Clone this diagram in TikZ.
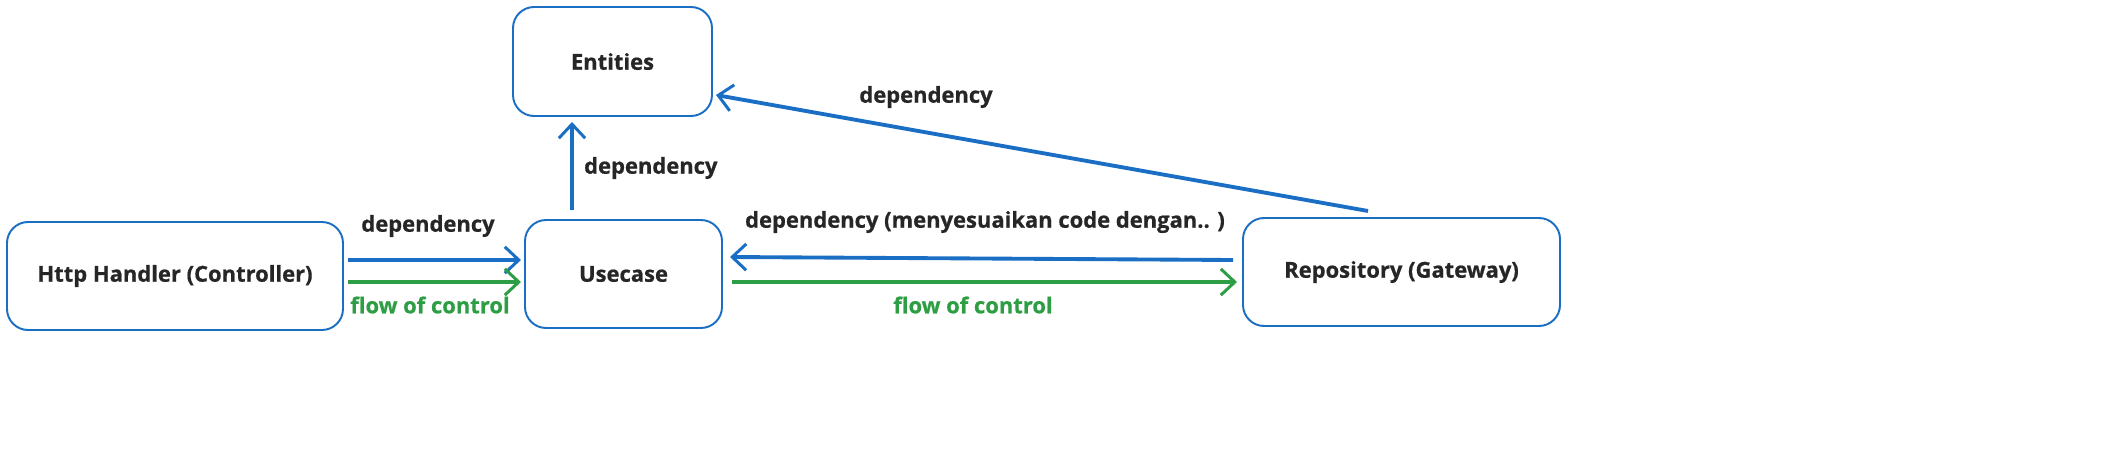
\documentclass[tikz,border=0pt]{standalone}
\usepackage{fontspec}
\setmainfont{Open Sans}[FakeBold=0.6]
\usetikzlibrary{arrows.meta}
\definecolor{bl}{HTML}{1A6FC4}
\definecolor{gr}{HTML}{2E9E44}
\begin{document}
\begin{tikzpicture}[x=0.02cm,y=-0.02cm,
 box/.style={draw=bl,line width=1.1pt,rounded corners=12pt,fill=white,font=\bfseries\fontsize{12.5}{15}\selectfont,text=black!85},
 dep/.style={draw=bl,line width=2.2pt,-{Straight Barb[length=8pt,width=15pt,line width=1.7pt]}},
 flow/.style={draw=gr,line width=2.2pt,-{Straight Barb[length=8pt,width=15pt,line width=1.7pt]}},
 lab/.style={font=\bfseries\fontsize{12.5}{15}\selectfont,text=black!85},
 glab/.style={font=\bfseries\fontsize{12.5}{15}\selectfont,text=gr}]
\useasboundingbox (0,0) rectangle (2102,453);
\node[box,minimum width=0.02cm*199,minimum height=0.02cm*109] (ent) at (612.5,61.5) {Entities};
\node[box,minimum width=0.02cm*336,minimum height=0.02cm*108] (http) at (175,276) {Http Handler (Controller)};
\node[box,minimum width=0.02cm*197,minimum height=0.02cm*108] (use) at (623.5,274) {Usecase};
\node[box,minimum width=0.02cm*317,minimum height=0.02cm*108] (repo) at (1401.5,272) {Repository (Gateway)};
\coordinate (u1) at (572,210); \coordinate (e1) at (572,122);
\draw[dep] (u1) -- (e1);
\node[lab,anchor=west] (l1) at (578,168) {dependency};
\coordinate (h1) at (348,260); \coordinate (u2) at (521,260);
\draw[dep] (h1) -- (u2);
\coordinate (h2) at (348,282); \coordinate (u3) at (521,282);
\draw[flow] (h2) -- (u3);
\node[lab] (l2) at (428,226) {dependency};
\node[glab] (l3) at (430,305) {flow of control};
\coordinate (r1) at (1233,260); \coordinate (u4) at (730,257);
\draw[dep] (r1) -- (u4);
\node[lab] (l4) at (985,222) {dependency (menyesuaikan code dengan.. )};
\coordinate (u5) at (732,282); \coordinate (r2) at (1237,282);
\draw[flow] (u5) -- (r2);
\node[glab] (l5) at (973,305) {flow of control};
\coordinate (r3) at (1368,211); \coordinate (e2) at (716,95);
\draw[dep] (r3) -- (e2);
\node[lab] (l6) at (926,97) {dependency};
\end{tikzpicture}
\end{document}
